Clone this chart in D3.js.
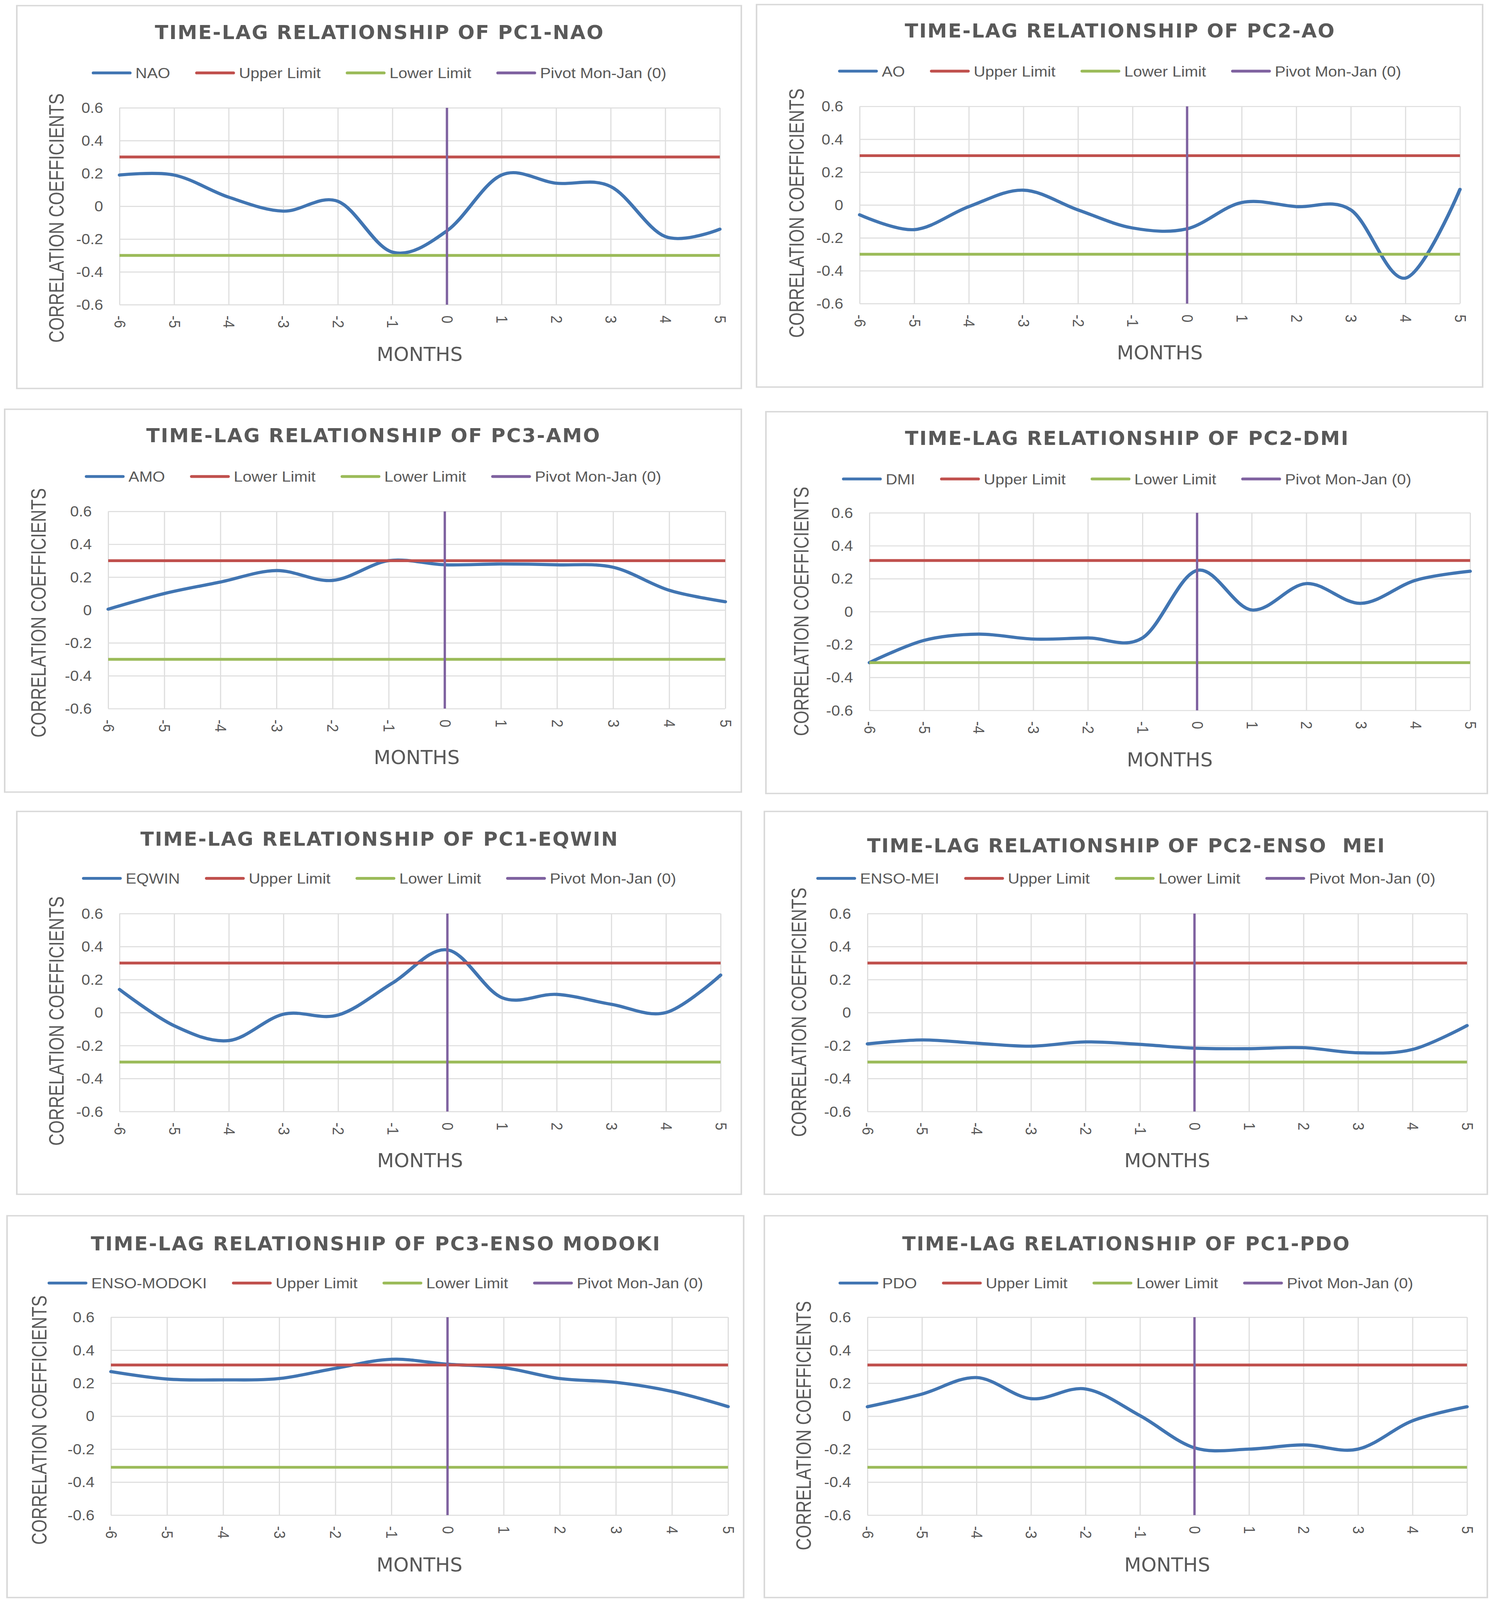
<!DOCTYPE html>
<html>
<head>
<meta charset="utf-8">
<script src="https://cdn.jsdelivr.net/npm/d3@7"></script>
<style>
  html, body { margin: 0; padding: 0; background: #fff; overflow: hidden; }
  svg { display: block; }
</style>
</head>
<body>
<svg id="chart" viewBox="0 0 3820 4543" preserveAspectRatio="none"></svg>
<script>
// ---------------- data ----------------
var months = [-6, -5, -4, -3, -2, -1, 0, 1, 2, 3, 4, 5];
var yTicks = [-0.6, -0.4, -0.2, 0, 0.2, 0.4, 0.6];

var titles = [
  "TIME-LAG RELATIONSHIP OF PC1-NAO",
  "TIME-LAG RELATIONSHIP OF PC2-AO",
  "TIME-LAG RELATIONSHIP OF PC3-AMO",
  "TIME-LAG RELATIONSHIP OF PC2-DMI",
  "TIME-LAG RELATIONSHIP OF PC1-EQWIN",
  "TIME-LAG RELATIONSHIP OF PC2-ENSO  MEI",
  "TIME-LAG RELATIONSHIP OF PC3-ENSO MODOKI",
  "TIME-LAG RELATIONSHIP OF PC1-PDO"
];
var seriesNames = ["NAO", "AO", "AMO", "DMI", "EQWIN", "ENSO-MEI", "ENSO-MODOKI", "PDO"];
// the AMO chart labels its red line "Lower Limit" too
var upperNames = ["Upper Limit", "Upper Limit", "Lower Limit", "Upper Limit",
                  "Upper Limit", "Upper Limit", "Upper Limit", "Upper Limit"];
var lowerName = "Lower Limit";
var pivotName = "Pivot Mon-Jan (0)";

var naoValues    = [0.19, 0.19, 0.055, -0.03, 0.03, -0.28, -0.15, 0.19, 0.14, 0.12, -0.185, -0.14];
var aoValues     = [-0.06, -0.15, -0.01, 0.09, -0.03, -0.14, -0.145, 0.015, -0.01, -0.03, -0.445, 0.095];
var amoValues    = [0.005, 0.10, 0.17, 0.24, 0.18, 0.30, 0.275, 0.28, 0.275, 0.26, 0.12, 0.05];
var dmiValues    = [-0.31, -0.175, -0.137, -0.167, -0.16, -0.16, 0.25, 0.01, 0.17, 0.05, 0.19, 0.245];
var eqwinValues  = [0.14, -0.08, -0.17, -0.01, -0.015, 0.18, 0.38, 0.09, 0.11, 0.05, 0.0, 0.227];
var meiValues    = [-0.19, -0.166, -0.186, -0.204, -0.178, -0.193, -0.216, -0.219, -0.213, -0.244, -0.224, -0.079];
var modokiValues = [0.27, 0.225, 0.22, 0.228, 0.29, 0.345, 0.315, 0.294, 0.228, 0.205, 0.15, 0.058];
var pdoValues    = [0.057, 0.134, 0.234, 0.106, 0.165, 0.003, -0.192, -0.2, -0.174, -0.2, -0.028, 0.057];
var seriesValues = [naoValues, aoValues, amoValues, dmiValues, eqwinValues, meiValues, modokiValues, pdoValues];

var upperLimits = [0.3, 0.3, 0.3, 0.31, 0.3, 0.3, 0.31, 0.31];
var lowerLimits = [-0.3, -0.3, -0.3, -0.31, -0.3, -0.3, -0.31, -0.31];
var pivotMonth = 0;
var pivotRange = [-0.6, 0.6];

// ---------------- layout ----------------
var layout = [
  {box: [43, 16, 1898, 1103],    plot: [306, 306, 1843, 865],    titleY: 111,  titleW: 1148, legendY: 207,  ylabX: 144,  ylabY: 619,  monthsY: 1025},
  {box: [1937, 13, 3796, 1099],  plot: [2201, 302, 3738, 862],   titleY: 106,  titleW: 1100, legendY: 202,  ylabX: 2039, ylabY: 605,  monthsY: 1020},
  {box: [12, 1162, 1898, 2249],  plot: [277, 1452, 1857, 2012],  titleY: 1256, titleW: 1161, legendY: 1353, ylabX: 98,   ylabY: 1740, monthsY: 2170},
  {box: [1961, 1169, 3808, 2253],plot: [2226, 1456, 3764, 2017], titleY: 1263, titleW: 1135, legendY: 1360, ylabX: 2051, ylabY: 1736, monthsY: 2176},
  {box: [43, 2304, 1898, 3391],  plot: [306, 2594, 1845, 3156],  titleY: 2401, titleW: 1222, legendY: 2494, ylabX: 144,  ylabY: 2899, monthsY: 3314},
  {box: [1957, 2304, 3808, 3391],plot: [2221, 2594, 3756, 3156], titleY: 2420, titleW: 1325, legendY: 2494, ylabX: 2045, ylabY: 2874, monthsY: 3314},
  {box: [18, 3452, 1904, 4536],  plot: [284, 3740, 1864, 4302],  titleY: 3550, titleW: 1457, legendY: 3643, ylabX: 100,  ylabY: 4032, monthsY: 4462},
  {box: [1957, 3452, 3808, 4536],plot: [2221, 3740, 3756, 4302], titleY: 3550, titleW: 1145, legendY: 3643, ylabX: 2057, ylabY: 4048, monthsY: 4462}
];

var colors = {series: "#4175b2", upper: "#c0504d", lower: "#9bbb59", pivot: "#7f62a0"};
var textColor = "#595959";
var gridColor = "#dedede";
var sansFont = "'Liberation Sans', Arial, sans-serif";
var narrowFont = "'Liberation Sans Narrow', 'DejaVu Sans Condensed', 'Liberation Sans', sans-serif";

// the window is shorter than the drawing, so the 3820x4543 viewBox is fitted to it
var svg = d3.select("#chart")
  .attr("width", window.innerWidth || 3820)
  .attr("height", window.innerHeight || 4543);

function fmtY(d) {
  return String(+d.toFixed(1)); // plain hyphen minus like the original
}

function drawPanel(i) {
  var L = layout[i];
  var g = svg.append("g");

  // outer chart border
  g.append("rect")
    .attr("x", L.box[0]).attr("y", L.box[1])
    .attr("width", L.box[2] - L.box[0]).attr("height", L.box[3] - L.box[1])
    .attr("fill", "#fff").attr("stroke", "#d9d9d9").attr("stroke-width", 4);

  var x = d3.scaleLinear().domain([months[0], months[months.length - 1]]).range([L.plot[0], L.plot[2]]);
  var y = d3.scaleLinear().domain([-0.6, 0.6]).range([L.plot[3], L.plot[1]]);
  var plotW = L.plot[2] - L.plot[0];
  var plotH = L.plot[3] - L.plot[1];

  // vertical gridlines + rotated month labels
  var gx = g.append("g")
    .attr("transform", "translate(0," + L.plot[3] + ")")
    .call(d3.axisBottom(x).tickValues(months).tickSize(-plotH).tickSizeOuter(0).tickFormat(function (d) { return String(d); }));
  gx.select(".domain").remove();
  gx.selectAll(".tick line").attr("stroke", gridColor).attr("stroke-width", 3);
  gx.selectAll(".tick text")
    .attr("x", 0).attr("y", 0).attr("dy", null)
    .attr("transform", "translate(0,31) rotate(90)")
    .attr("text-anchor", "start")
    .attr("dominant-baseline", "central")
    .attr("fill", textColor)
    .style("font-family", sansFont).style("font-size", "40px");

  // horizontal gridlines + value labels
  var gy = g.append("g")
    .attr("transform", "translate(" + L.plot[0] + ",0)")
    .call(d3.axisLeft(y).tickValues(yTicks).tickSize(-plotW).tickSizeOuter(0).tickFormat(fmtY));
  gy.select(".domain").remove();
  gy.selectAll(".tick line").attr("stroke", gridColor).attr("stroke-width", 3);
  gy.selectAll(".tick text")
    .attr("x", -42).attr("dy", "0.35em")
    .attr("fill", textColor)
    .style("font-family", sansFont).style("font-size", "40px");

  var line = d3.line()
    .x(function (d) { return x(d[0]); })
    .y(function (d) { return y(d[1]); });

  // series (Excel-style smoothed line)
  var seriesData = months.map(function (m, k) { return [m, seriesValues[i][k]]; });
  g.append("path")
    .attr("d", line.curve(d3.curveCardinal.tension(0))(seriesData))
    .attr("fill", "none").attr("stroke", colors.series)
    .attr("stroke-width", 9).attr("stroke-linejoin", "round").attr("stroke-linecap", "round");

  line.curve(d3.curveLinear);
  g.append("path")
    .attr("d", line(months.map(function (m) { return [m, upperLimits[i]]; })))
    .attr("fill", "none").attr("stroke", colors.upper).attr("stroke-width", 8);
  g.append("path")
    .attr("d", line(months.map(function (m) { return [m, lowerLimits[i]]; })))
    .attr("fill", "none").attr("stroke", colors.lower).attr("stroke-width", 8);
  g.append("path")
    .attr("d", line(pivotRange.map(function (v) { return [pivotMonth, v]; })))
    .attr("fill", "none").attr("stroke", colors.pivot).attr("stroke-width", 6);

  // title
  g.append("text")
    .attr("x", (L.box[0] + L.box[2]) / 2).attr("y", L.titleY)
    .attr("text-anchor", "middle")
    .attr("textLength", L.titleW).attr("lengthAdjust", "spacing")
    .attr("fill", textColor)
    .style("font-family", narrowFont).style("font-weight", "bold").style("font-size", "56px")
    .style("white-space", "pre")
    .text(titles[i]);

  // legend
  var items = [
    {name: seriesNames[i], color: colors.series},
    {name: upperNames[i], color: colors.upper},
    {name: lowerName, color: colors.lower},
    {name: pivotName, color: colors.pivot}
  ];
  var lg = g.append("g");
  var widths = items.map(function (it) {
    var t = lg.append("text").style("font-family", sansFont).style("font-size", "41px").text(it.name);
    var w = t.node().getComputedTextLength();
    t.remove();
    return w;
  });
  var swatch = 102, swGap = 10, itemGap = 64;
  var total = d3.sum(widths) + items.length * (swatch + swGap) + (items.length - 1) * itemGap;
  var cx = (L.box[0] + L.box[2]) / 2 - total / 2;
  items.forEach(function (it, k) {
    lg.append("line")
      .attr("x1", cx + 4).attr("x2", cx + swatch - 4)
      .attr("y1", L.legendY).attr("y2", L.legendY)
      .attr("stroke", it.color).attr("stroke-width", 8).attr("stroke-linecap", "round");
    lg.append("text")
      .attr("x", cx + swatch + swGap).attr("y", L.legendY + 15)
      .attr("fill", textColor)
      .style("font-family", sansFont).style("font-size", "41px")
      .text(it.name);
    cx += swatch + swGap + widths[k] + itemGap;
  });

  // axis titles
  g.append("text")
    .attr("transform", "translate(" + L.ylabX + "," + L.ylabY + ") rotate(-90)")
    .attr("text-anchor", "middle").attr("dominant-baseline", "central")
    .attr("textLength", 708).attr("lengthAdjust", "spacingAndGlyphs")
    .attr("fill", textColor)
    .style("font-family", sansFont).style("font-size", "54px")
    .text("CORRELATION COEFFICIENTS");

  g.append("text")
    .attr("x", (L.plot[0] + L.plot[2]) / 2).attr("y", L.monthsY)
    .attr("text-anchor", "middle")
    .attr("textLength", 220).attr("lengthAdjust", "spacingAndGlyphs")
    .attr("fill", textColor)
    .style("font-family", narrowFont).style("font-size", "56px")
    .text("MONTHS");
}

for (var i = 0; i < titles.length; i++) drawPanel(i);
</script>
</body>
</html>
